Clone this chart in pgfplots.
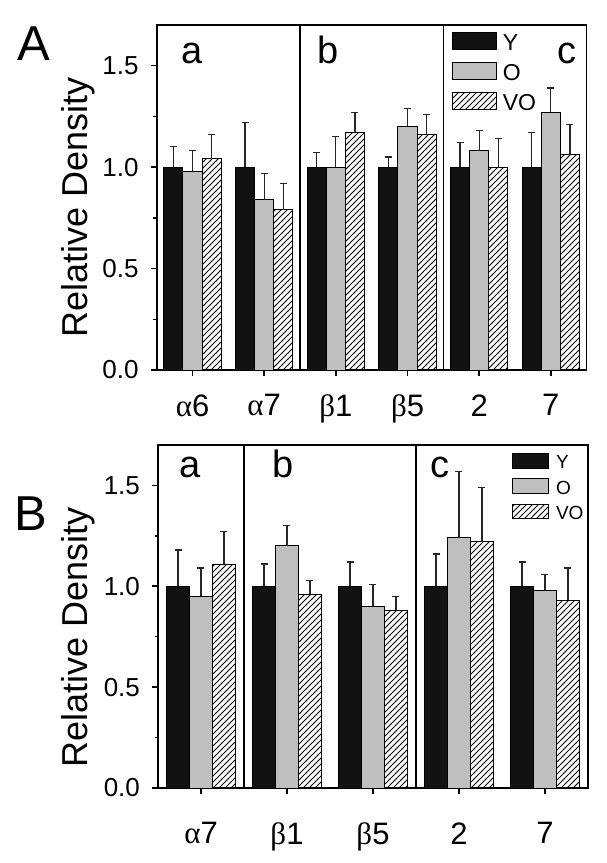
\documentclass[border=0pt]{standalone}
\usepackage{pgfplots}
\pgfplotsset{compat=1.18}
\usepackage{pgfplotstable}
\usetikzlibrary{patterns}
\usepackage{fontspec}
\setmainfont{Liberation Sans}
\newfontfamily\grk{Liberation Serif}

\pgfplotstableread{
x Y eY O eO V eV
0 1.00 0.10 0.98 0.10 1.04 0.12
1 1.00 0.22 0.84 0.13 0.79 0.13
2 1.00 0.07 1.00 0.15 1.17 0.10
3 1.00 0.05 1.20 0.09 1.16 0.10
4 1.00 0.12 1.08 0.10 1.00 0.14
5 1.00 0.17 1.27 0.12 1.06 0.15
}\dataA

\pgfplotstableread{
x Y eY O eO V eV
0 1.00 0.18 0.95 0.14 1.11 0.16
1 1.00 0.11 1.20 0.10 0.96 0.07
2 1.00 0.12 0.90 0.11 0.88 0.07
3 1.00 0.16 1.24 0.33 1.22 0.27
4 1.00 0.12 0.98 0.08 0.93 0.16
}\dataB

\tikzset{lett/.style={anchor=base, inner sep=0pt, font=\fontsize{19}{21}\selectfont}}

\pgfplotsset{
  panel/.style={
    scale only axis, width=215pt,
    ybar, bar width=0.267,
    ymin=0, ymax=1.7, xmin=-0.5,
    ytick={0,0.5,1,1.5}, minor ytick={0.25,0.75,1.25},
    xtick pos=lower, ytick pos=left, tick align=outside,
    major tick length=3pt, minor tick length=1.75pt,
    axis line style={line width=0.8pt},
    every tick/.style={black, line width=0.75pt},
    /pgf/number format/assume math mode=true,
    yticklabel style={font=\fontsize{13}{15}\selectfont, anchor=east, inner sep=0pt, xshift=-5.85pt,
      /pgf/number format/.cd, fixed, fixed zerofill, precision=1},
    xticklabel style={font=\fontsize{15.5}{17}\selectfont, anchor=north, inner sep=0pt},
    ylabel={Relative Density},
    extra x tick style={grid=major, major tick length=0pt, grid style={black, line width=0.6pt}},
    extra x tick labels={},
    legend cell align=left,
  },
  errs/.style={error bars/.cd, y dir=plus, y explicit,
    error bar style={line width=0.6pt, black!85},
    error mark options={rotate=90, line width=0.6pt, mark size=1.75pt, black!85}},
  barY/.style={bar shift=-0.267, fill=black!93, draw=black, line width=0.5pt},
  barO/.style={bar shift=0, fill=black!25, draw=black, line width=0.5pt},
  barV/.style={bar shift=0.267, pattern=north east lines, draw=black, line width=0.5pt},
}

\begin{document}
\begin{tikzpicture}
\path[use as bounding box] (0,0) rectangle (303pt,-431.5pt);

\node[anchor=base west, inner sep=0pt, font=\fontsize{24.5}{26}\selectfont] at (8.5pt,-30pt) {A};
\node[anchor=base west, inner sep=0pt, font=\fontsize{24.5}{26}\selectfont] at (7pt,-265pt) {B};

% Panel A
\begin{axis}[panel, at={(78.35pt,-185pt)}, anchor=south west, height=172.5pt,
  xmax=5.5, xtick={0,...,5},
  xticklabels={{\grk α}6,{\grk α}7,{\grk β}1,{\grk β}5,2,7},
  xticklabel style={yshift=-9pt},
  extra x ticks={1.5,3.5},
  ylabel style={at={(rel axis cs:-0.162,0.471)}, anchor=base, inner sep=0pt, font=\fontsize{18}{20}\selectfont},
  legend style={at={(0.686,0.98)}, anchor=north west, draw=none, fill=none, inner sep=0pt,
    row sep=4.25pt, column sep=2.85pt, font=\fontsize{11.5}{13}\selectfont, nodes={inner sep=0pt}},
  legend image code/.code={\draw[#1, line width=0.5pt] (0pt,-2.75pt) rectangle (22pt,5.75pt);},
]
\addplot[barY, errs] table[x=x, y=Y, y error=eY] {\dataA};
\addplot[barO, errs] table[x=x, y=O, y error=eO] {\dataA};
\addplot[barV, errs] table[x=x, y=V, y error=eV] {\dataA};
\legend{Y,O,VO}
\node[lett] at (axis cs:0,1.51) {a};
\node[lett] at (axis cs:1.89,1.51) {b};
\node[lett] at (axis cs:5.23,1.51) {c};
\end{axis}

% Panel B
\begin{axis}[panel, at={(79pt,-394pt)}, anchor=south west, height=171.5pt,
  xmax=4.5, xtick={0,...,4},
  xticklabels={{\grk α}7,{\grk β}1,{\grk β}5,2,7},
  xticklabel style={yshift=-14pt},
  extra x ticks={0.5,2.5},
  ylabel style={at={(rel axis cs:-0.165,0.439)}, anchor=base, inner sep=0pt, font=\fontsize{18}{20}\selectfont},
  legend style={at={(0.822,0.977)}, anchor=north west, draw=none, fill=none, inner sep=0pt,
    row sep=3.3pt, column sep=3.3pt, font=\fontsize{9.5}{11}\selectfont, nodes={inner sep=0pt}},
  legend image code/.code={\draw[#1, line width=0.5pt] (0pt,-2.2pt) rectangle (18.3pt,5pt);},
]
\addplot[barY, errs] table[x=x, y=Y, y error=eY] {\dataB};
\addplot[barO, errs] table[x=x, y=O, y error=eO] {\dataB};
\addplot[barV, errs] table[x=x, y=V, y error=eV] {\dataB};
\legend{Y,O,VO}
\node[lett] at (axis cs:-0.125,1.54) {a};
\node[lett] at (axis cs:0.957,1.54) {b};
\node[lett] at (axis cs:2.78,1.54) {c};
\end{axis}
\end{tikzpicture}
\end{document}
